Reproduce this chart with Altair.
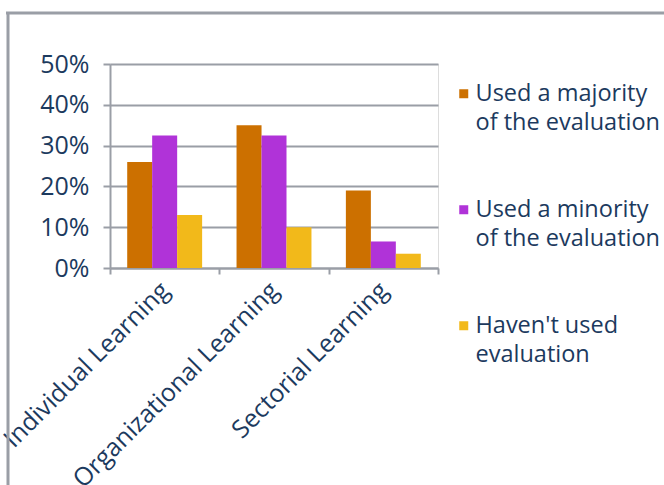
import altair as alt
import pandas as pd

categories = ["Individual Learning", "Organizational Learning", "Sectorial Learning"]
series = [
    "Used a majority\nof the evaluation",
    "Used a minority\nof the evaluation",
    "Haven't used\nevaluation",
]
majority = [26, 35, 19]
minority = [32.5, 32.5, 6.5]
not_used = [13, 10, 3.5]
colors = ["#cc7000", "#b033d8", "#f2b91a"]
y_ticks = [0, 10, 20, 30, 40, 50]

rows = []
for s, vals in zip(series, [majority, minority, not_used]):
    for c, v in zip(categories, vals):
        rows.append({"category": c, "series": s, "value": v})
df = pd.DataFrame(rows)

TEXT = "#1c3a5e"
GRAY = "#9a9ea6"
FONT = "Open Sans"

bars = alt.Chart(df).mark_bar(size=25).encode(
    x=alt.X("category:N", sort=categories, title=None,
            scale=alt.Scale(paddingInner=0, paddingOuter=0),
            axis=alt.Axis(labelAngle=-45, labelAlign="right", labelBaseline="middle",
                          labelFontSize=25, labelFont=FONT, labelColor=TEXT,
                          labelPadding=12, tickBand="extent", tickSize=6, tickWidth=2,
                          tickColor=GRAY, domainColor=GRAY, domainWidth=2,
                          grid=False, labelLimit=400)),
    xOffset=alt.XOffset("series:N", sort=series,
                        scale=alt.Scale(paddingInner=0, paddingOuter=0.69)),
    y=alt.Y("value:Q", title=None,
            scale=alt.Scale(domain=[0, 50], nice=False),
            axis=alt.Axis(values=y_ticks, labelExpr="datum.value + '%'",
                          labelFontSize=25, labelFont=FONT, labelColor=TEXT,
                          labelPadding=14, tickSize=7, tickWidth=2, tickColor=GRAY,
                          domainColor=GRAY, domainWidth=2,
                          grid=True, gridColor=GRAY, gridWidth=2)),
    color=alt.Color("series:N", sort=series,
                    scale=alt.Scale(domain=series, range=colors),
                    legend=alt.Legend(title=None, orient="none", legendX=342, legendY=18,
                                      symbolType="square", symbolSize=81,
                                      symbolStrokeWidth=0, symbolOffset=0,
                                      labelFontSize=23.5, labelFont=FONT, labelColor=TEXT,
                                      labelOffset=0, labelLimit=400, rowPadding=62,
                                      labelBaseline="middle",
                                      labelExpr="split(datum.label, '\\n')")),
)

frame_df = pd.DataFrame({"k": [0]})
top_line = alt.Chart(frame_df).mark_rule(color=GRAY, strokeWidth=3).encode(
    x=alt.value(-104), x2=alt.value(560), y=alt.value(-51))
left_line = alt.Chart(frame_df).mark_rule(color=GRAY, strokeWidth=3).encode(
    x=alt.value(-102), y=alt.value(-51), y2=alt.value(430))

chart = alt.layer(bars, top_line, left_line).properties(
    width=328, height=204,
    autosize=alt.AutoSizeParams(type="none"),
    padding={"left": 110, "top": 64, "right": 226, "bottom": 217},
).configure_view(stroke=None).configure(
    background="white",
    style={"guide-label": {"lineHeight": 29}},
)

chart.save("out.html", embed_options={"renderer": "svg", "actions": False})
